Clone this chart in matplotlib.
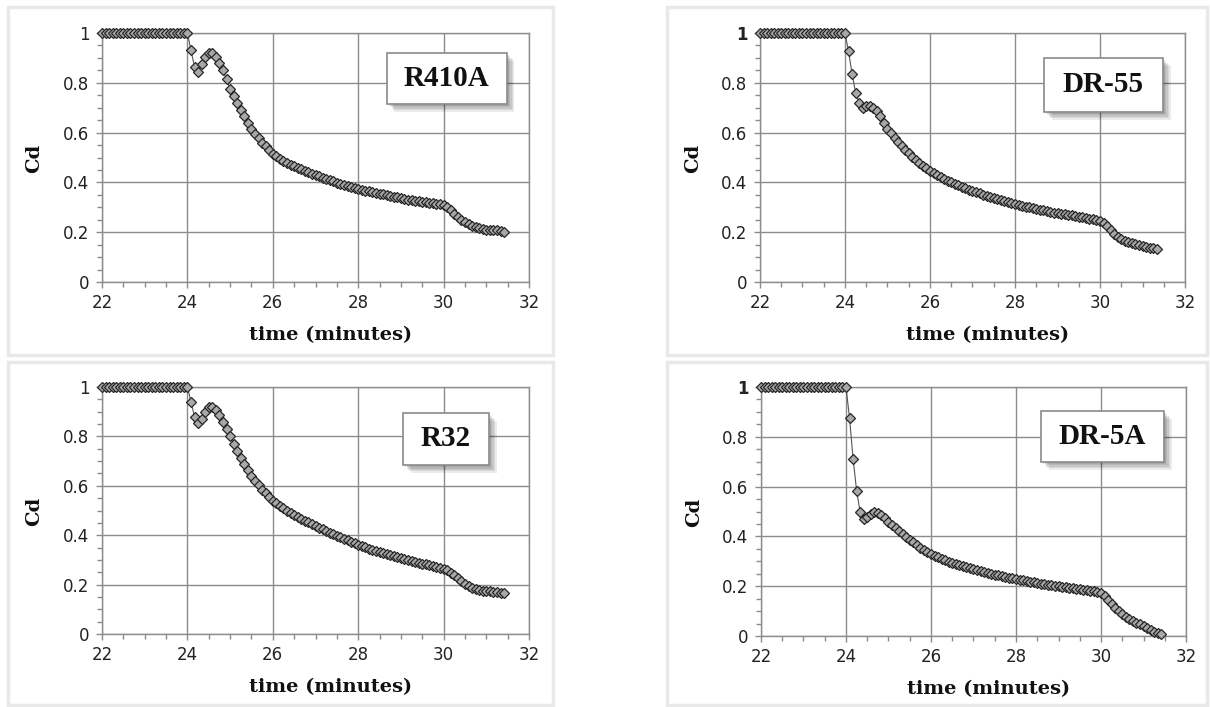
import numpy as np
import matplotlib.pyplot as plt
from matplotlib.patches import Rectangle
from matplotlib import patheffects

# Cd logged every 5 s from t = 22 min
start_min = 22.0
step_min = 5 / 60

r410a_cd = [
  1.0, 1.0, 1.0, 1.0, 1.0, 1.0, 1.0, 1.0, 1.0, 1.0, 1.0, 1.0,
  1.0, 1.0, 1.0, 1.0, 1.0, 1.0, 1.0, 1.0, 1.0, 1.0, 1.0, 1.0,
  1.0, 0.93, 0.865, 0.845, 0.875, 0.905, 0.918, 0.918, 0.905, 0.88, 0.85, 0.815,
  0.775, 0.745, 0.717, 0.69, 0.665, 0.64, 0.615, 0.595, 0.577, 0.56, 0.545, 0.53,
  0.515, 0.505, 0.495, 0.486, 0.478, 0.471, 0.464, 0.458, 0.452, 0.446, 0.440, 0.435,
  0.429, 0.424, 0.419, 0.414, 0.409, 0.404, 0.399, 0.394, 0.390, 0.386, 0.382, 0.378,
  0.373, 0.370, 0.367, 0.364, 0.361, 0.358, 0.355, 0.352, 0.349, 0.346, 0.343, 0.340,
  0.337, 0.334, 0.331, 0.328, 0.326, 0.324, 0.322, 0.320, 0.318, 0.316, 0.314, 0.312,
  0.308, 0.300, 0.288, 0.275, 0.262, 0.250, 0.240, 0.232, 0.225, 0.220, 0.215, 0.212,
  0.210, 0.209, 0.209, 0.208, 0.206, 0.202,
]

dr55_cd = [
  1.0, 1.0, 1.0, 1.0, 1.0, 1.0, 1.0, 1.0, 1.0, 1.0, 1.0, 1.0,
  1.0, 1.0, 1.0, 1.0, 1.0, 1.0, 1.0, 1.0, 1.0, 1.0, 1.0, 1.0,
  1.0, 0.926, 0.836, 0.76, 0.72, 0.70, 0.705, 0.705, 0.698, 0.685, 0.665, 0.64,
  0.615, 0.597, 0.579, 0.562, 0.546, 0.531, 0.517, 0.504, 0.491, 0.479, 0.467, 0.456,
  0.446, 0.437, 0.429, 0.421, 0.414, 0.407, 0.400, 0.394, 0.388, 0.382, 0.376, 0.371,
  0.366, 0.361, 0.356, 0.351, 0.347, 0.343, 0.339, 0.335, 0.331, 0.327, 0.323, 0.319,
  0.315, 0.311, 0.307, 0.303, 0.300, 0.297, 0.294, 0.291, 0.288, 0.285, 0.282, 0.279,
  0.277, 0.274, 0.272, 0.270, 0.268, 0.266, 0.263, 0.261, 0.258, 0.255, 0.252, 0.248,
  0.244, 0.236, 0.223, 0.207, 0.192, 0.181, 0.173, 0.166, 0.160, 0.155, 0.151, 0.147,
  0.144, 0.141, 0.138, 0.135, 0.132,
]

r32_cd = [
  1.0, 1.0, 1.0, 1.0, 1.0, 1.0, 1.0, 1.0, 1.0, 1.0, 1.0, 1.0,
  1.0, 1.0, 1.0, 1.0, 1.0, 1.0, 1.0, 1.0, 1.0, 1.0, 1.0, 1.0,
  1.0, 0.94, 0.88, 0.855, 0.87, 0.90, 0.918, 0.918, 0.905, 0.885, 0.86, 0.83,
  0.80, 0.77, 0.74, 0.713, 0.688, 0.664, 0.64, 0.62, 0.602, 0.585, 0.569, 0.554,
  0.54, 0.529, 0.519, 0.509, 0.500, 0.491, 0.483, 0.475, 0.467, 0.459, 0.452, 0.445,
  0.438, 0.431, 0.424, 0.417, 0.410, 0.403, 0.397, 0.391, 0.385, 0.379, 0.373, 0.367,
  0.361, 0.356, 0.351, 0.346, 0.341, 0.336, 0.332, 0.328, 0.324, 0.320, 0.316, 0.312,
  0.308, 0.304, 0.300, 0.296, 0.292, 0.288, 0.285, 0.282, 0.279, 0.276, 0.272, 0.268,
  0.264, 0.258, 0.248, 0.237, 0.226, 0.215, 0.204, 0.194, 0.186, 0.181, 0.178, 0.176,
  0.175, 0.173, 0.171, 0.170, 0.168, 0.167,
]

dr5a_cd = [
  1.0, 1.0, 1.0, 1.0, 1.0, 1.0, 1.0, 1.0, 1.0, 1.0, 1.0, 1.0,
  1.0, 1.0, 1.0, 1.0, 1.0, 1.0, 1.0, 1.0, 1.0, 1.0, 1.0, 1.0,
  1.0, 0.875, 0.712, 0.583, 0.498, 0.47, 0.478, 0.49, 0.497, 0.495, 0.487, 0.473,
  0.458, 0.446, 0.434, 0.422, 0.41, 0.398, 0.387, 0.376, 0.365, 0.355, 0.346, 0.338,
  0.330, 0.323, 0.316, 0.310, 0.304, 0.299, 0.294, 0.289, 0.284, 0.280, 0.276, 0.272,
  0.268, 0.264, 0.260, 0.256, 0.253, 0.250, 0.246, 0.243, 0.240, 0.237, 0.234, 0.231,
  0.228, 0.225, 0.223, 0.220, 0.218, 0.215, 0.213, 0.210, 0.208, 0.206, 0.204, 0.202,
  0.200, 0.198, 0.196, 0.194, 0.192, 0.190, 0.188, 0.186, 0.184, 0.182, 0.179, 0.176,
  0.173, 0.160, 0.145, 0.128, 0.112, 0.099, 0.088, 0.078, 0.069, 0.061, 0.054, 0.047,
  0.040, 0.032, 0.024, 0.017, 0.011, 0.007,
]

refrigerants = ["R410A", "DR-55", "R32", "DR-5A"]
series = [r410a_cd, dr55_cd, r32_cd, dr5a_cd]

x_ticks = [22, 24, 26, 28, 30, 32]
y_ticks = [0, 0.2, 0.4, 0.6, 0.8, 1]
y_tick_labels = ["0", "0.2", "0.4", "0.6", "0.8", "1"]

W, H = 1210, 707

# pixel boxes (x0, y0, x1, y1), top-left origin
axes_px = [(102, 33, 529, 282), (760, 33, 1185, 282),
           (102, 387, 529, 634), (761, 387, 1186, 636)]
frame_px = [(8, 7, 553, 355), (667, 7, 1207, 355),
            (8, 362, 553, 705), (667, 362, 1207, 705)]
# name box in axes fractions (x0, y0, x1, y1)
name_box = [(0.667, 0.715, 0.948, 0.92), (0.668, 0.683, 0.948, 0.90),
            (0.705, 0.684, 0.906, 0.895), (0.659, 0.699, 0.948, 0.904)]

GRID = "#8c8c8c"


def fig_rect(b):
  x0, y0, x1, y1 = b
  return [x0 / W, 1 - y1 / H, (x1 - x0) / W, (y1 - y0) / H]


fig = plt.figure(figsize=(W / 100, H / 100), dpi=100)

for i, (name, cd) in enumerate(zip(refrigerants, series)):
  fx, fy, fw, fh = fig_rect(frame_px[i])
  fig.add_artist(Rectangle((fx, fy), fw, fh, transform=fig.transFigure,
                           fill=False, edgecolor="#e9e9e9", lw=2.5))

  ax = fig.add_axes(fig_rect(axes_px[i]))
  t = start_min + np.arange(len(cd)) * step_min
  ax.plot(t, cd, color="#555555", lw=0.8, marker="D", ms=5,
          mfc="#a8a8a8", mec="#262626", mew=0.9, zorder=3, clip_on=False)

  ax.set_xlim(22, 32)
  ax.set_ylim(0, 1)
  ax.set_xticks(x_ticks)
  ax.set_xticks(np.arange(22, 32.01, 0.5), minor=True)
  ax.set_yticks(y_ticks)
  ax.set_yticks(np.arange(0, 1.001, 0.05), minor=True)
  labels = ax.set_yticklabels(y_tick_labels)
  if i % 2 == 1:
    labels[-1].set_fontweight("bold")

  ax.grid(True, which="major", color=GRID, lw=1.0, zorder=1)
  ax.set_axisbelow(True)
  for sp in ax.spines.values():
    sp.set_color(GRID)
    sp.set_linewidth(1.0)
  ax.tick_params(which="both", direction="out", color=GRID, width=1.0,
                 labelcolor="#222222", labelsize=12)
  ax.tick_params(which="major", length=4)
  ax.tick_params(which="minor", length=3.5)
  ax.tick_params(axis="x", pad=5)
  ax.tick_params(axis="y", pad=5)

  ax.set_xlabel("time (minutes)", family="DejaVu Serif", fontweight="bold",
                fontsize=14, color="#111111")
  ax.xaxis.set_label_coords(0.536, -0.178)
  ax.set_ylabel("Cd", family="DejaVu Serif", fontweight="bold",
                fontsize=14, color="#111111")
  ax.yaxis.set_label_coords(-0.137, 0.495)

  bx0, by0, bx1, by1 = name_box[i]
  box = Rectangle((bx0, by0), bx1 - bx0, by1 - by0, transform=ax.transAxes,
                  facecolor="white", edgecolor="#8a8a8a", lw=1.2, zorder=6)
  box.set_path_effects([
    patheffects.SimplePatchShadow(offset=(o, -o), shadow_rgbFace="black", alpha=0.08)
    for o in (1.5, 2.5, 3.5, 4.5, 5.5)
  ] + [patheffects.Normal()])
  ax.add_patch(box)
  ax.text((bx0 + bx1) / 2, (by0 + by1) / 2, name, transform=ax.transAxes,
          ha="center", va="center", family="Liberation Serif",
          fontweight="bold", fontsize=21, color="#111111", zorder=7)

fig.savefig("out.png", dpi=100)
